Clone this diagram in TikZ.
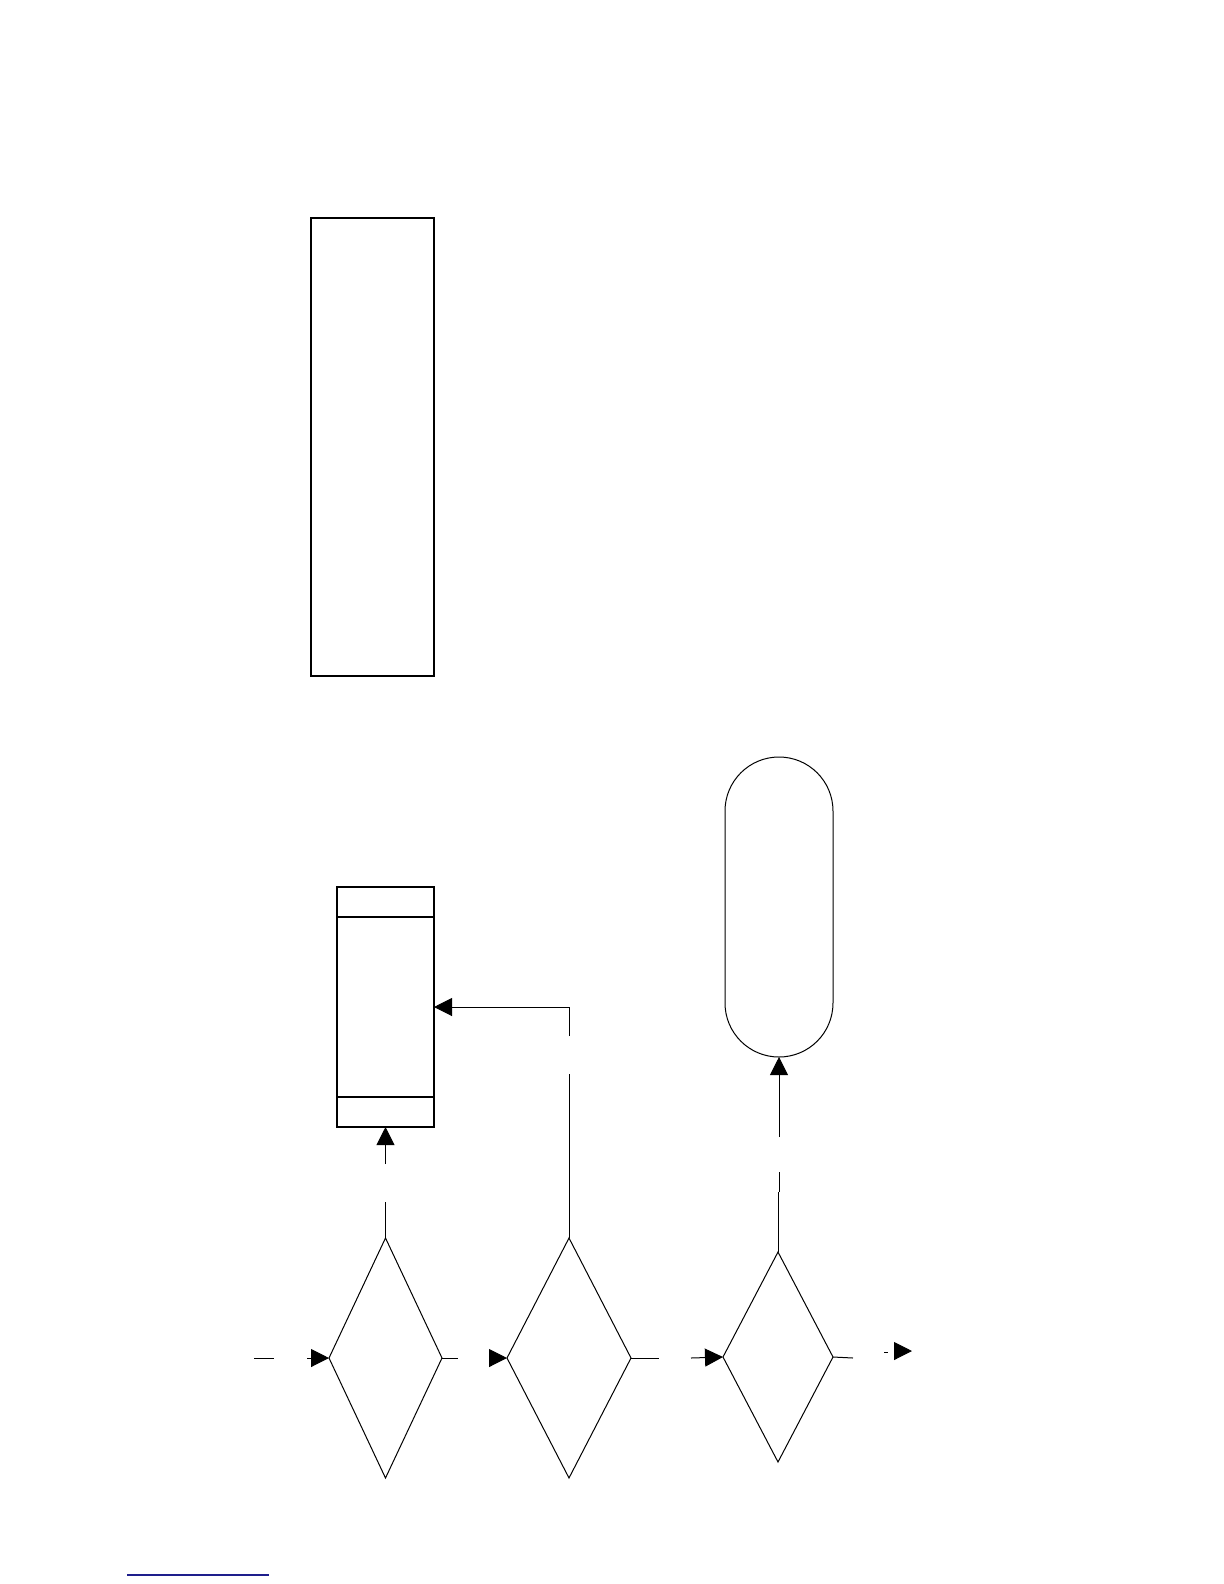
\documentclass[tikz,border=0pt]{standalone}
\usetikzlibrary{shapes.geometric,arrows.meta,calc}
\definecolor{linkblue}{RGB}{30,30,140}

\begin{document}
\begin{tikzpicture}[x=0.5bp, y=-0.5bp,
                every node/.style={draw, inner sep=0pt, outer sep=0pt, line width=0.5bp},
                box_style/.style={rectangle, line width=0.7bp},
                term_style/.style={rectangle, rounded corners=27bp, minimum width=54bp, minimum height=150bp},
                dec_style/.style={diamond, minimum height=120bp},
                edge_style/.style={draw=black, line width=0.5bp},
                arrow_style/.style={edge_style, -{Triangle[length=9bp,width=9bp]}}]
                \useasboundingbox (0,0) rectangle (1224,1584);
                \node[box_style, minimum width=61.5bp, minimum height=229bp] (note) at (372.5,447) {};
                \node[box_style, minimum width=48.5bp, minimum height=120bp] (store) at (385.5,1007) {};
                \node[term_style] (stop) at (779,907) {};
                \node[dec_style, minimum width=56.5bp] (d1) at (385.5,1358) {};
                \node[dec_style, minimum width=62bp] (d2) at (569,1358) {};
                \node[dec_style, minimum width=55bp, minimum height=105bp] (d3) at (778,1357) {};
                \draw[line width=0.7bp] ($(store.north west)+(0,30)$) -- ($(store.north east)+(0,30)$);
                \draw[line width=0.7bp] ($(store.south west)+(0,-30)$) -- ($(store.south east)+(0,-30)$);
                \coordinate (a1) at (254,1358);
                \coordinate (a2) at (274,1358);
                \coordinate (a3) at (307,1358);
                \coordinate (b1) at (458,1358);
                \coordinate (b2) at (490,1358);
                \coordinate (c1) at (659,1358);
                \coordinate (c2) at (691,1358);
                \coordinate (e1) at (853,1358);
                \coordinate (e2) at (884,1352);
                \coordinate (e3) at (888,1352);
                \coordinate (e4) at (894,1351);
                \coordinate (e5) at (912,1351);
                \coordinate (u1) at (385.5,1202);
                \coordinate (u2) at (385.5,1164);
                \coordinate (v1) at (569,1074);
                \coordinate (v2) at (569,1036);
                \coordinate (w1) at (778,1192);
                \coordinate (w2) at (779,1192);
                \coordinate (w3) at (779,1172);
                \coordinate (w4) at (779,1137);
                \draw[edge_style] (a1) -- (a2);
                \draw[arrow_style] (a3) -- (d1.west);
                \draw[edge_style] (d1.east) -- (b1);
                \draw[arrow_style] (b2) -- (d2.west);
                \draw[edge_style] (d2.east) -- (c1);
                \draw[arrow_style] (c2) -- (d3.west);
                \draw[edge_style] (d3.east) -- (e1);
                \draw[edge_style] (e2) -- (e3);
                \draw[arrow_style] (e4) -- (e5);
                \draw[edge_style] (d1.north) -- (u1);
                \draw[arrow_style] (u2) -- (store.south);
                \draw[edge_style] (d2.north) -- (v1);
                \draw[arrow_style] (v2) |- (store.east);
                \draw[edge_style] (d3.north) -- (w1);
                \draw[edge_style] (w2) -- (w3);
                \draw[arrow_style] (w4) -- (stop.south);
                \draw[linkblue, line width=0.6bp] (127,1575) -- (269,1575);
            \end{tikzpicture}
\end{document}
